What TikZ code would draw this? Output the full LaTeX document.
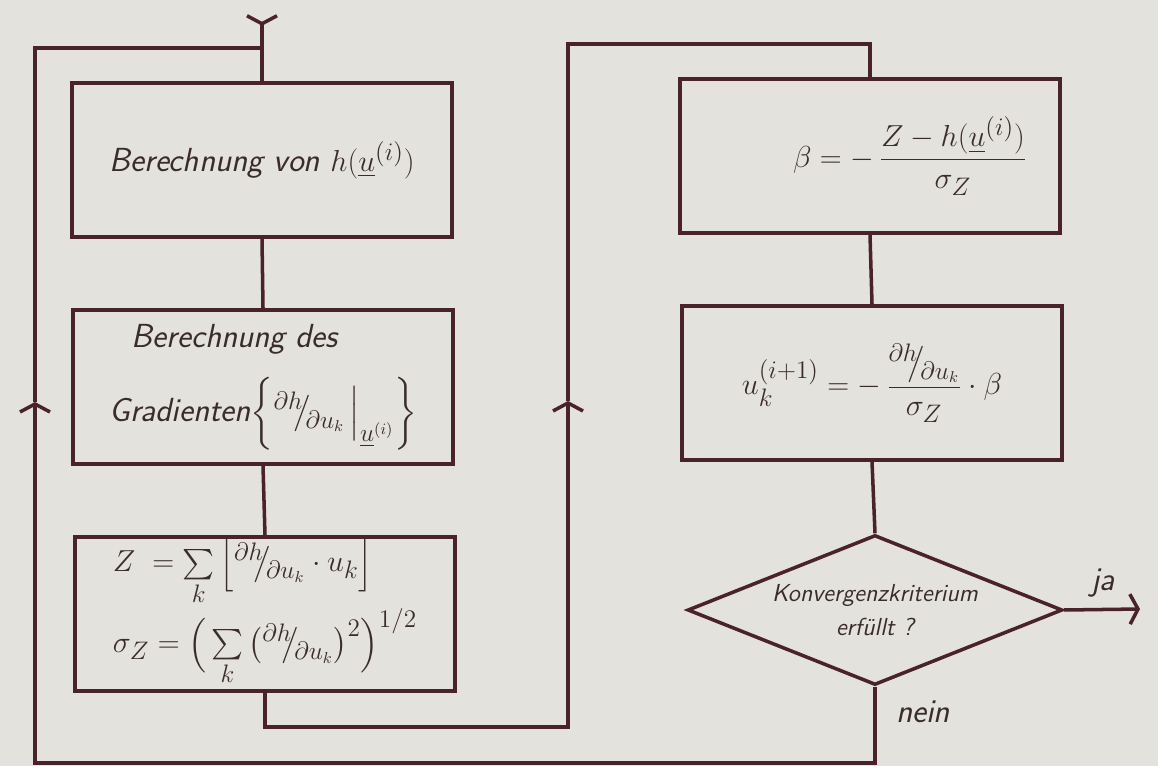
\documentclass[tikz,border=0pt]{standalone}
\usepackage{amsmath}
\usetikzlibrary{arrows.meta,shapes.geometric,positioning}
\definecolor{Paper}{HTML}{E4E2DC}
\definecolor{Ink}{HTML}{4A2328}
\definecolor{Pen}{HTML}{3A2C2E}
\newcommand{\dhdu}{{}^{\partial h}\!\!\big/\!{}_{\partial u_k}}
\newcommand{\vu}{\underline{u}}

\begin{document}
\begin{tikzpicture}[x=0.02cm,y=-0.02cm,
  box/.style={draw=Ink,line width=2pt,minimum width=7.6cm,minimum height=3.08cm,inner sep=0pt,text=Pen},
  test/.style={diamond,draw=Ink,line width=2pt,aspect=2.5,minimum width=7.5cm,minimum height=3cm,inner sep=0pt,text=Pen,font=\fontsize{14}{19}\selectfont\sffamily\slshape,align=center},
  flow/.style={draw=Ink,line width=2pt},
  barb/.style={-{Straight Barb[length=0.16cm,width=0.6cm]}},
  hand/.style={font=\fontsize{19}{23}\selectfont\sffamily\slshape,text=Pen}
]
\fill[Paper] (0,0) rectangle (1158,766);
\useasboundingbox (0,0) rectangle (1158,766);
\node[box,hand] (calc) at (262,160) {Berechnung von $h(\vu^{(i)})$};
\node[box,hand,align=left] (grad) at (263,387) {\hspace*{0.45cm}Berechnung des\\[12pt]Gradienten$\left\{\dhdu\,\Big|_{\vu^{(i)}}\right\}$};
\node[box,hand,align=left] (zsig) at (265,614) {\\[-6pt]$Z\;=\sum\limits_k\Big[\dhdu\cdot u_k\Big]$\\[1pt]$\sigma_Z=\Big(\sum\limits_k\big(\dhdu\big)^2\Big)^{1/2}$};
\node[box,hand] (beta) at (870,156) {\hspace*{1.6cm}$\beta=-\,\dfrac{Z-h(\vu^{(i)})}{\sigma_Z}$};
\node[box,hand] (upd) at (872,383) {$u_k^{(i+1)}=-\,\dfrac{\dhdu}{\sigma_Z}\cdot\beta$};
\node[test] (conv) at (875,610) {Konvergenzkriterium\\erfüllt ?};
\coordinate (in) at (262,14);
\coordinate (top) at (262,48);
\coordinate (bot) at (35,763);
\coordinate (lup) at (35,402);
\coordinate (rbot) at (568,727);
\coordinate (rup) at (568,401);
\coordinate (rtop) at (568,44);
\coordinate (out) at (1140,609);
\draw[flow,{Straight Barb[reversed,length=0.16cm,width=0.6cm]}-] (in) -- (calc.north);
\draw[flow] (calc.south) -- (grad.north);
\draw[flow] (grad.south) -- (zsig.north);
\draw[flow,barb] (zsig.south) |- (rbot) -- (rup);
\draw[flow] (rup) -- (rtop) -| (beta.north);
\draw[flow] (beta.south) -- (upd.north);
\draw[flow] (upd.south) -- (conv.north);
\draw[flow,barb] (conv.east) -- (out);
\draw[flow,barb] (conv.south) |- (bot) -- (lup);
\draw[flow] (lup) |- (top);
\node[hand] (ja) at (1103,583) {ja};
\node[hand] (nein) at (923,712) {nein};
\end{tikzpicture}
\end{document}
